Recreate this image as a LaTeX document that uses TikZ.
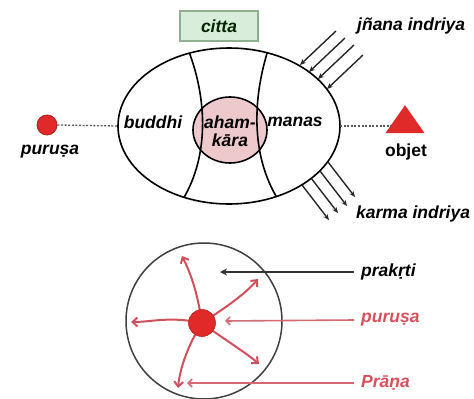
\documentclass[tikz,border=0pt]{standalone}
\usepackage{fontspec}
\setmainfont{Liberation Sans}
\usetikzlibrary{shapes.geometric,arrows.meta}
\definecolor{dotred}{HTML}{E02A2A}
\definecolor{dotedge}{HTML}{B81C1C}
\definecolor{txtred}{HTML}{D9505C}
\definecolor{arrred}{HTML}{D2505C}
\definecolor{linered}{HTML}{D46A72}
\definecolor{ahampink}{HTML}{EDC9CC}
\definecolor{cittafill}{HTML}{D8EEDB}
\definecolor{cittaedge}{HTML}{8FAE92}
\begin{document}
\begin{tikzpicture}[x=1pt,y=-1pt,
  lbl/.style={font=\fontsize{17.5}{19}\selectfont\bfseries\itshape, inner sep=0pt},
  redlbl/.style={lbl, text=txtred},
  sense/.style={black!85, line width=1.4pt, -{Stealth[length=6pt,width=5pt]}},
  dotline/.style={gray!70!black, line width=1.3pt, dash pattern=on 2pt off 1.6pt},
  prana/.style={arrred, line width=2pt, -{Straight Barb[length=5pt,width=9pt]}},
  pointer/.style={line width=1.6pt},
  outline/.style={line width=1.6pt}]
\useasboundingbox (0,0) rectangle (474,399);

% main ellipse
\node[ellipse, draw, outline, minimum width=222pt, minimum height=156pt, inner sep=0pt, outer sep=0pt] (ell) at (229,126) {};
% aham-kara circle
\node[ellipse, draw, outline, fill=ahampink, minimum width=74pt, minimum height=66pt, inner sep=0pt, outer sep=0pt] (aham) at (230,130) {};
% inner arcs
\begin{scope}
\clip (229,126) ellipse [x radius=111, y radius=78];
\draw[outline] (186,44) .. controls (209,100) and (209,160) .. (180,204);
\draw[outline] (270,44) .. controls (251,100) and (251,160) .. (281,204);
\end{scope}
\node[lbl, align=center] (ahamtxt) at (230,131) {aham-\\[-1pt]kāra};
\node[lbl] (buddhi) at (153,122) {buddhi};
\node[lbl] (manas) at (295,122) {manas};

% citta
\node[draw=cittaedge, fill=cittafill, line width=1.2pt, minimum width=78pt, minimum height=30pt, inner sep=0pt] (citta) at (219,26) {};
\node[lbl, text=black!85!green] at (citta) {citta};

% purusa dot left
\node[circle, fill=dotred, draw=dotedge, line width=0.8pt, minimum size=20pt, inner sep=0pt] (pdot) at (47,125) {};
\node[lbl] (plbl) at (50,152) {puruṣa};
\draw[dotline] (pdot.east) -- (ell.west);

% objet triangle
\node[isosceles triangle, isosceles triangle apex angle=70, shape border rotate=90, fill=dotred, minimum height=28pt, minimum width=27pt, inner sep=0pt, outer sep=0pt] (tri) at (405,123) {};
\node[lbl, font=\fontsize{17.5}{19}\selectfont\bfseries] (objet) at (406,152) {objet};
\draw[dotline] (ell.east) -- (tri.west |- ell.east);

% jnana indriya
\node[lbl, anchor=west] (jnana) at (357,26) {jñana indriya};
\foreach \i/\ex/\ey in {1/300/65,2/309/72,3/318/79,4/327/89}{
  \coordinate (je\i) at (\ex,\ey);
  \coordinate (js\i) at (\ex+36,\ey-34);
  \draw[sense] (js\i) -- (je\i);
}
% karma indriya
\node[lbl, anchor=west] (karma) at (356,214) {karma indriya};
\foreach \i/\sx/\sy in {1/302/185,2/311/178,3/320/171,4/328/162}{
  \coordinate (ks\i) at (\sx,\sy);
  \coordinate (ke\i) at (\sx+27,\sy+35);
  \draw[sense] (ks\i) -- (ke\i);
}

% lower circle
\node[circle, draw=black!75, line width=1.5pt, minimum size=156pt, inner sep=0pt] (prak) at (204,321) {};
\coordinate (c) at (202,323);
\draw[prana] (c) .. controls (197,290) and (190,272) .. (182,256);
\draw[prana] (c) .. controls (228,306) and (245,294) .. (258,279);
\draw[prana] (c) .. controls (170,316) and (152,322) .. (131,322);
\draw[prana] (c) .. controls (228,342) and (245,352) .. (259,364);
\draw[prana] (c) .. controls (188,345) and (180,368) .. (178,388);
\node[circle, fill=dotred, draw=dotred!85!black, line width=0.6pt, minimum size=27pt, inner sep=0pt] (pcore) at (c) {};

\node[lbl, anchor=west] (prakl) at (361,272) {prakṛti};
\node[redlbl, anchor=west] (purl) at (361,320) {puruṣa};
\node[redlbl, anchor=west] (pral) at (361,383) {Prāṇa};
\coordinate (prakt) at (220,272);
\coordinate (purt) at (225,321);
\coordinate (prat) at (187,383);
\draw[pointer, black!80, -{Stealth[length=7pt,width=7pt]}] (prakl.west) ++(-7,0) -- (prakt);
\draw[pointer, linered, -{Straight Barb[length=4pt,width=8pt]}] (purl.west) ++(-7,0) -- (purt);
\draw[pointer, linered, -{Straight Barb[length=4pt,width=8pt]}] (pral.west) ++(-7,0) -- (prat);
\end{tikzpicture}
\end{document}
